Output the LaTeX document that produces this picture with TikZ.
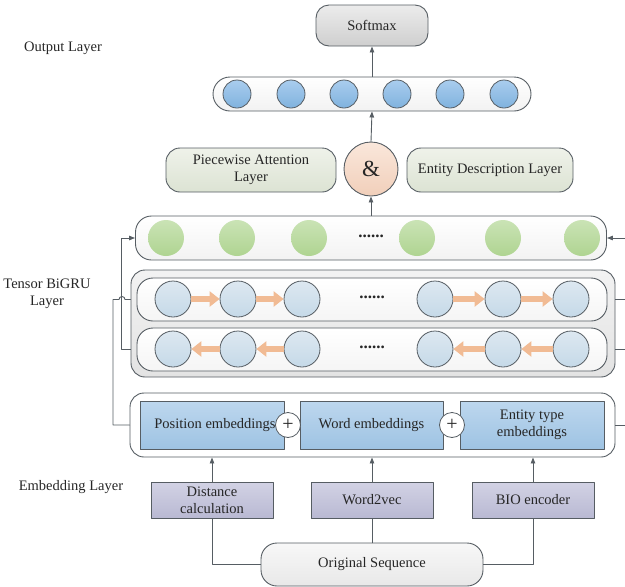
\documentclass[tikz,border=0pt]{standalone}
\usepackage{fontspec}
\setmainfont{Liberation Serif}
\usetikzlibrary{arrows.meta}
\definecolor{linegray}{HTML}{565D63}
\definecolor{arrowor}{HTML}{F1BB94}
\definecolor{bluetop}{HTML}{A9CDEE}
\definecolor{bluebot}{HTML}{80B2DE}
\definecolor{embtop}{HTML}{BDD7EE}
\definecolor{embbot}{HTML}{9EC3E3}
\definecolor{grutop}{HTML}{DDE8F1}
\definecolor{grubot}{HTML}{C5D9E8}
\definecolor{greentop}{HTML}{CAE3B5}
\definecolor{greenbot}{HTML}{AFD491}
\definecolor{purptop}{HTML}{D2D2E4}
\definecolor{purpbot}{HTML}{B9B9D3}
\definecolor{sagetop}{HTML}{EFF2EA}
\definecolor{sagebot}{HTML}{DCE3D3}
\definecolor{peachtop}{HTML}{FAE7DB}
\definecolor{peachbot}{HTML}{F1CFBA}
\begin{document}
\begin{tikzpicture}[x=1pt, y=-1pt, line join=round, line cap=round, >={Triangle[length=6pt,width=4.5pt]}]
	\tikzset{every node/.style={font=\fontsize{14.5}{17}\selectfont, text=black!85},
		conn/.style={draw=linegray, line width=0.9pt},
		pill/.style={draw=linegray, line width=0.9pt, rounded corners=#1, inner sep=0pt},
		pill/.default=14pt,
		flatbox/.style={draw=linegray, line width=0.9pt, inner sep=0pt},
		bluedot/.style={circle, draw=linegray, line width=0.8pt, minimum size=28pt, inner sep=0pt, top color=bluetop, bottom color=bluebot},
		greendot/.style={circle, minimum size=36pt, inner sep=0pt, top color=greentop, bottom color=greenbot},
		grudot/.style={circle, draw=linegray, line width=0.8pt, minimum size=36pt, inner sep=0pt, top color=grutop, bottom color=grubot},
		plusdot/.style={circle, draw=linegray, line width=0.8pt, fill=white, minimum size=25pt, inner sep=0pt, font=\fontsize{20}{20}\selectfont},
		embrect/.style={flatbox, minimum width=144pt, minimum height=48pt, top color=embtop, bottom color=embbot},
		toolbox/.style={flatbox, minimum width=122pt, minimum height=36pt, top color=purptop, bottom color=purpbot},
		dots/.style={font=\fontsize{17}{17}\bfseries\selectfont},
		grarrow/.style={draw=arrowor, line width=6pt, line cap=butt, -{Triangle[length=10pt,width=15pt]}}}
	\useasboundingbox (0,0) rectangle (625,587);
	% output layer
	\node[pill=13pt, minimum width=112pt, minimum height=41pt, top color=gray!15, bottom color=gray!38] (softmax) at (372,25.5) {Softmax};
	\node (outlbl) at (63,48) {Output Layer};
	\node[pill=17pt, minimum width=318pt, minimum height=34pt, top color=white, bottom color=gray!10] (bluebox) at (372,94) {};
	\foreach \i/\x in {1/237,2/291,3/344,4/397,5/450,6/504}
		\node[bluedot] (b\i) at (\x,94) {};
	% attention and entity description
	\node[pill, minimum width=170pt, minimum height=44pt, top color=sagetop, bottom color=sagebot, align=center] (attn) at (251,170) {Piecewise Attention\\Layer};
	\node[circle, draw=linegray, line width=0.9pt, minimum size=54pt, inner sep=0pt, top color=peachtop, bottom color=peachbot, font=\fontsize{23}{23}\selectfont] (amp) at (371,169) {\&};
	\node[pill, minimum width=166pt, minimum height=44pt, top color=sagetop, bottom color=sagebot] (entdesc) at (490,170) {Entity Description Layer};
	% tensor bigru layer
	\node[pill=16pt, minimum width=471pt, minimum height=44pt, top color=white, bottom color=gray!10] (greenbox) at (371,238) {};
	\foreach \i/\x in {1/166,2/237,3/309,4/417,5/503,6/582}
		\node[greendot] (g\i) at (\x,238) {};
	\node[dots] (gdots) at (371,236) {......};
	\node[pill, minimum width=484pt, minimum height=107pt, top color=gray!10, bottom color=gray!22] (bigru) at (373,323.5) {};
	\node[pill=16pt, minimum width=470pt, minimum height=43pt, top color=white, bottom color=gray!8] (fwd) at (372,299.5) {};
	\node[pill=16pt, minimum width=470pt, minimum height=43pt, top color=white, bottom color=gray!8] (bwd) at (372,349.5) {};
	\foreach \i/\x in {1/173,2/238,3/302,4/435,5/503,6/571}{
		\node[grudot] (f\i) at (\x,299) {};
		\node[grudot] (k\i) at (\x,349) {};
	}
	\node[dots] (fdots) at (372,297) {......};
	\node[dots] (kdots) at (372,347) {......};
	\foreach \a/\b in {1/2,2/3,4/5,5/6}{
		\draw[grarrow] (f\a.east) -- (f\b.west);
		\draw[grarrow] (k\b.west) -- (k\a.east);
	}
	\node[align=center] (grulbl) at (47,294) {Tensor BiGRU\\Layer};
	% embedding layer
	\node[pill, minimum width=485pt, minimum height=64pt, fill=white] (embbox) at (372.5,425) {};
	\node[embrect] (posemb) at (212,425) {\hspace{6pt}Position embeddings};
	\node[embrect, minimum width=143pt] (wordemb) at (371.5,425) {Word embeddings};
	\node[embrect, align=center] (typeemb) at (532,425) {Entity type\\embeddings};
	\node[plusdot] (plus1) at (288,425) {+};
	\node[plusdot] (plus2) at (452,425) {+};
	\node (emblbl) at (71,487) {Embedding Layer};
	\node[toolbox, align=center] (dist) at (212,500) {Distance\\calculation};
	\node[toolbox] (w2v) at (372,500) {Word2vec};
	\node[toolbox] (bio) at (533,500) {BIO encoder};
	\node[pill=16pt, minimum width=222pt, minimum height=43pt, top color=gray!6, bottom color=gray!18] (orig) at (372,564.5) {Original Sequence};
	% connectors
	\draw[conn] (orig.west) -| (dist.south);
	\draw[conn] (orig.north) -- (w2v.south);
	\draw[conn] (orig.east) -| (bio.south);
	\draw[conn,->] (dist.north) -- (dist.north |- embbox.south);
	\draw[conn,->] (w2v.north) -- (w2v.north |- embbox.south);
	\draw[conn,->] (bio.north) -- (bio.north |- embbox.south);
	\draw[conn,->] (greenbox.north) -- (amp.south);
	\draw[conn,->] (amp.north) -- (bluebox.south);
	\draw[conn,->] (bluebox.north) -- (softmax.south);
	\coordinate (fwdin) at (bigru.west |- fwd.west);
	\coordinate (bwdin) at (bigru.west |- bwd.west);
	\coordinate (fwdout) at (bigru.east |- fwd.east);
	\coordinate (bwdout) at (bigru.east |- bwd.east);
	\coordinate (rgreen) at (625,238);
	\coordinate (rfwd) at (625,299.5);
	\coordinate (rbwd) at (625,349.5);
	\coordinate (remb) at (625,425);
	\draw[conn] (embbox.west) -- (113,425) -- (113,299.5) -- (119,299.5) arc[start angle=180, end angle=360, radius=3] -- (fwdin);
	\draw[conn,->] (bwdin) -- ++(-9,0) |- (greenbox.west);
	\draw[conn,->] (rgreen) -- (greenbox.east);
	\draw[conn] (fwdout) -- (rfwd);
	\draw[conn] (bwdout) -- (rbwd);
	\draw[conn] (embbox.east) -- (remb);
\end{tikzpicture}
\end{document}
